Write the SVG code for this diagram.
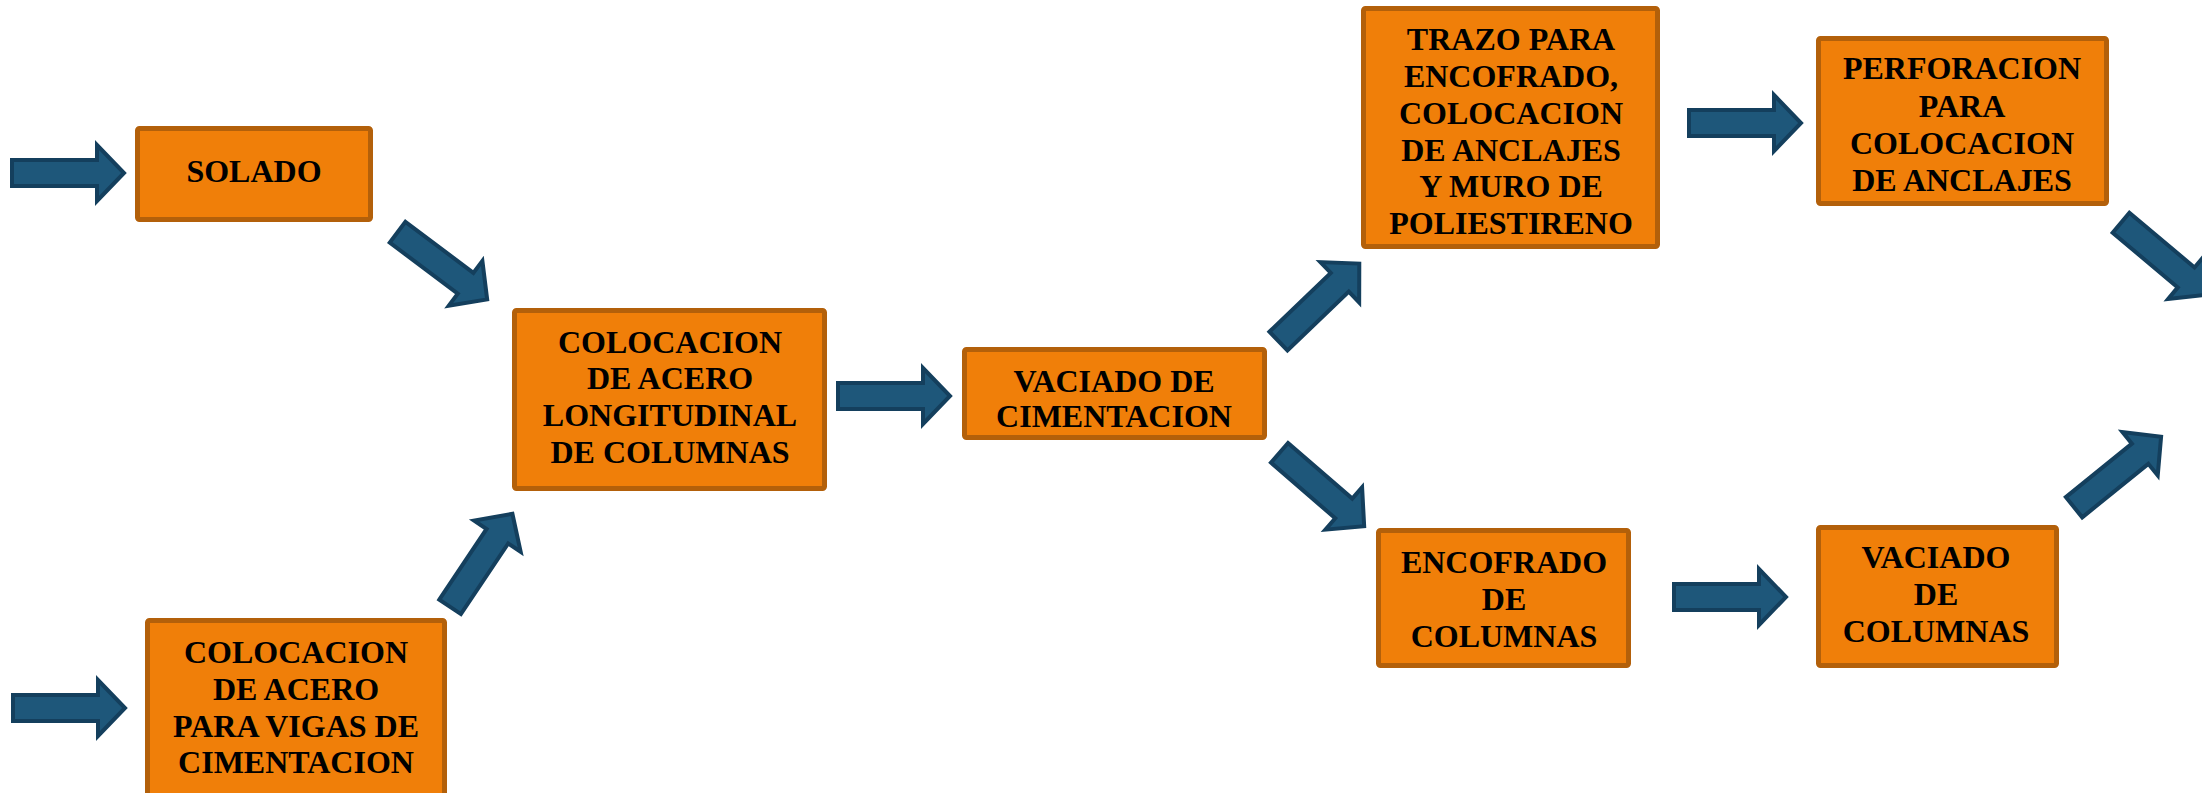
<svg xmlns="http://www.w3.org/2000/svg" xmlns:xlink="http://www.w3.org/1999/xlink" width="2202" height="793" viewBox="0 0 2202 793">
<style>
.box{fill:#F07F09;stroke:#B3600A;stroke-width:5;}
.lbl{font-family:"Liberation Serif","Times New Roman",serif;font-weight:bold;font-size:32px;fill:#000;text-anchor:middle;}
.arr{fill:#1E577A;stroke:#143F5D;stroke-width:4;stroke-linejoin:miter;}
</style>
<defs>
<polygon id="arw" points="2,-13 87,-13 87,-28 114,0 87,28 87,13 2,13"/>
<clipPath id="clipVac"><rect x="962" y="347" width="305" height="80"/></clipPath>
</defs>
<rect width="2202" height="793" fill="#FFFFFF"/>
<g id="connectors" class="arr">
<use xlink:href="#arw" href="#arw" transform="translate(10,173)"/>
<use xlink:href="#arw" href="#arw" transform="translate(11,708)"/>
<use xlink:href="#arw" href="#arw" transform="translate(836,396)"/>
<use xlink:href="#arw" href="#arw" transform="translate(1687,123)"/>
<use xlink:href="#arw" href="#arw" transform="translate(1672,597)"/>
<use xlink:href="#arw" href="#arw" transform="translate(396,231) rotate(36.9)"/>
<use xlink:href="#arw" href="#arw" transform="translate(449,608.5) rotate(-56.2)"/>
<use xlink:href="#arw" href="#arw" transform="translate(1277,342.5) rotate(-43.8)"/>
<use xlink:href="#arw" href="#arw" transform="translate(1278,451.5) rotate(40.9)"/>
<use xlink:href="#arw" href="#arw" transform="translate(2119.5,221.5) rotate(40)"/>
<use xlink:href="#arw" href="#arw" transform="translate(2072.5,508.5) rotate(-39)"/>
</g>
<g id="solado">
<rect class="box" x="137.5" y="128.5" width="233" height="91" rx="2"/>
<text class="lbl" x="254" y="182">SOLADO</text>
</g>
<g id="acero-columnas">
<rect class="box" x="514.5" y="310.5" width="310" height="178" rx="2"/>
<text class="lbl" x="670" y="353">COLOCACION</text>
<text class="lbl" x="670" y="389">DE ACERO</text>
<text class="lbl" x="670" y="426">LONGITUDINAL</text>
<text class="lbl" x="670" y="463">DE COLUMNAS</text>
</g>
<g id="acero-vigas">
<rect class="box" x="147.5" y="620.5" width="297" height="185" rx="2"/>
<text class="lbl" x="296" y="663">COLOCACION</text>
<text class="lbl" x="296" y="700">DE ACERO</text>
<text class="lbl" x="296" y="737">PARA VIGAS DE</text>
<text class="lbl" x="296" y="773">CIMENTACION</text>
</g>
<g id="vaciado-cimentacion">
<rect class="box" x="964.5" y="349.5" width="300" height="88" rx="2"/>
<g clip-path="url(#clipVac)">
<text class="lbl" x="1114" y="392">VACIADO DE</text>
<text class="lbl" x="1114" y="427">CIMENTACION</text>
</g>
</g>
<g id="trazo">
<rect class="box" x="1363.5" y="8.5" width="294" height="238" rx="2"/>
<text class="lbl" x="1511" y="50">TRAZO PARA</text>
<text class="lbl" x="1511" y="87">ENCOFRADO,</text>
<text class="lbl" x="1511" y="124">COLOCACION</text>
<text class="lbl" x="1511" y="161">DE ANCLAJES</text>
<text class="lbl" x="1511" y="197">Y MURO DE</text>
<text class="lbl" x="1511" y="234">POLIESTIRENO</text>
</g>
<g id="perforacion">
<rect class="box" x="1818.5" y="38.5" width="288" height="165" rx="2"/>
<text class="lbl" x="1962" y="79">PERFORACION</text>
<text class="lbl" x="1962" y="117">PARA</text>
<text class="lbl" x="1962" y="154">COLOCACION</text>
<text class="lbl" x="1962" y="191">DE ANCLAJES</text>
</g>
<g id="encofrado-columnas">
<rect class="box" x="1378.5" y="530.5" width="250" height="135" rx="2"/>
<text class="lbl" x="1504" y="573">ENCOFRADO</text>
<text class="lbl" x="1504" y="610">DE</text>
<text class="lbl" x="1504" y="647">COLUMNAS</text>
</g>
<g id="vaciado-columnas">
<rect class="box" x="1818.5" y="527.5" width="238" height="138" rx="2"/>
<text class="lbl" x="1936" y="568">VACIADO</text>
<text class="lbl" x="1936" y="605">DE</text>
<text class="lbl" x="1936" y="642">COLUMNAS</text>
</g>
</svg>
